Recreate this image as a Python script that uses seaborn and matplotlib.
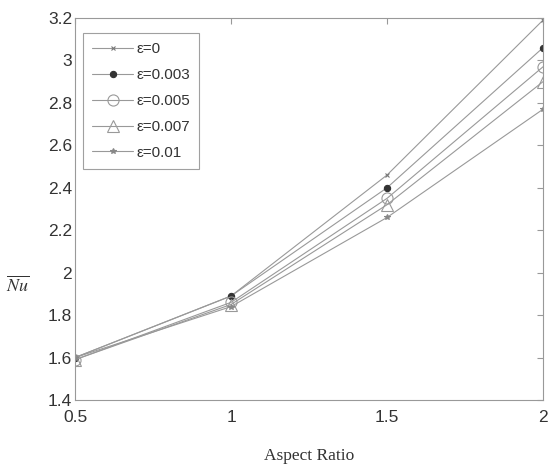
import matplotlib
matplotlib.use("Agg")
import matplotlib.pyplot as plt
import seaborn as sns
import pandas as pd

aspect_ratio = [0.5, 1.0, 1.5, 2.0]
series_labels = ["ε=0", "ε=0.003", "ε=0.005", "ε=0.007", "ε=0.01"]
nu_eps0 = [1.60, 1.89, 2.46, 3.19]
nu_eps0003 = [1.60, 1.89, 2.40, 3.06]
nu_eps0005 = [1.59, 1.86, 2.35, 2.97]
nu_eps0007 = [1.59, 1.85, 2.32, 2.90]
nu_eps001 = [1.60, 1.84, 2.26, 2.77]
x_ticks = [0.5, 1, 1.5, 2]
x_tick_labels = ["0.5", "1", "1.5", "2"]
y_ticks = [1.4, 1.6, 1.8, 2.0, 2.2, 2.4, 2.6, 2.8, 3.0, 3.2]
y_tick_labels = ["1.4", "1.6", "1.8", "2", "2.2", "2.4", "2.6", "2.8", "3", "3.2"]

all_vals = [nu_eps0, nu_eps0003, nu_eps0005, nu_eps0007, nu_eps001]
rows = []
for lab, vals in zip(series_labels, all_vals):
    for x, y in zip(aspect_ratio, vals):
        rows.append({"Aspect Ratio": x, "Nu": y, "eps": lab})
df = pd.DataFrame(rows)

sns.set_style("white")
plt.rcParams['font.family'] = ['Liberation Sans', 'DejaVu Sans']
plt.rcParams['mathtext.fontset'] = 'stix'

fig = plt.figure(figsize=(5.5, 4.72), dpi=100)
L, R, T, B = 75, 543, 18, 400
ax = fig.add_axes([L / 550, 1 - B / 472, (R - L) / 550, (B - T) / 472])

line_color = "#999999"
sns.lineplot(data=df, x="Aspect Ratio", y="Nu", hue="eps", style="eps",
             palette=[line_color] * 5, markers=["o"] * 5, dashes=False,
             linewidth=0.8, ax=ax, legend=False)

mk_styles = [
    dict(marker="x", ms=3.5, mfc="none", mec="#777777"),
    dict(marker="o", ms=4.5, mfc="#333333", mec="#333333"),
    dict(marker="o", ms=8, mfc="none", mec="#999999"),
    dict(marker="^", ms=8, mfc="none", mec="#999999"),
    dict(marker="*", ms=4, mfc="#888888", mec="#888888"),
]
for line, st in zip(ax.lines, mk_styles):
    line.set_marker(st["marker"])
    line.set_markersize(st["ms"])
    line.set_markerfacecolor(st["mfc"])
    line.set_markeredgecolor(st["mec"])
    line.set_markeredgewidth(0.8)

handles = []
for lab, st in zip(series_labels, mk_styles):
    h, = ax.plot([], [], color=line_color, lw=0.8, marker=st["marker"], ms=st["ms"],
                 mfc=st["mfc"], mec=st["mec"], mew=0.8)
    handles.append(h)
leg = ax.legend(handles, series_labels, loc="upper left",
                bbox_to_anchor=(8 / (R - L), 1 - 15 / (B - T)),
                borderaxespad=0, frameon=True, fancybox=False, fontsize=11,
                handlelength=2.7, labelspacing=0.78, borderpad=0.6,
                handletextpad=0.2)
leg.get_frame().set_edgecolor("#888888")
leg.get_frame().set_linewidth(0.8)
for t in leg.get_texts():
    t.set_color("#333333")

ax.set_xlim(0.5, 2)
ax.set_ylim(1.4, 3.2)
ax.set_xticks(x_ticks)
ax.set_xticklabels(x_tick_labels)
ax.set_yticks(y_ticks)
ax.set_yticklabels(y_tick_labels)
ax.tick_params(direction="in", length=4, color="#999999", labelsize=12.5,
               labelcolor="#333333", top=True, right=True)
ax.tick_params(axis="x", pad=7)
ax.tick_params(axis="y", pad=2)
for s in ax.spines.values():
    s.set_color("#999999")
    s.set_linewidth(0.8)

ax.set_xlabel("Aspect Ratio", fontsize=12.5, family="Liberation Serif", color="#333333")
ax.xaxis.label.set_va("center")
ax.xaxis.set_label_coords(0.5, -(456 - B) / (B - T))
ax.set_ylabel(r"$\overline{Nu}$", fontsize=13, rotation=0, color="#333333")
ax.yaxis.label.set_va("center")
ax.yaxis.label.set_ha("center")
ax.yaxis.set_label_coords((18 - L) / (R - L), (B - 285) / (B - T))

fig.savefig("out.png", dpi=100)
